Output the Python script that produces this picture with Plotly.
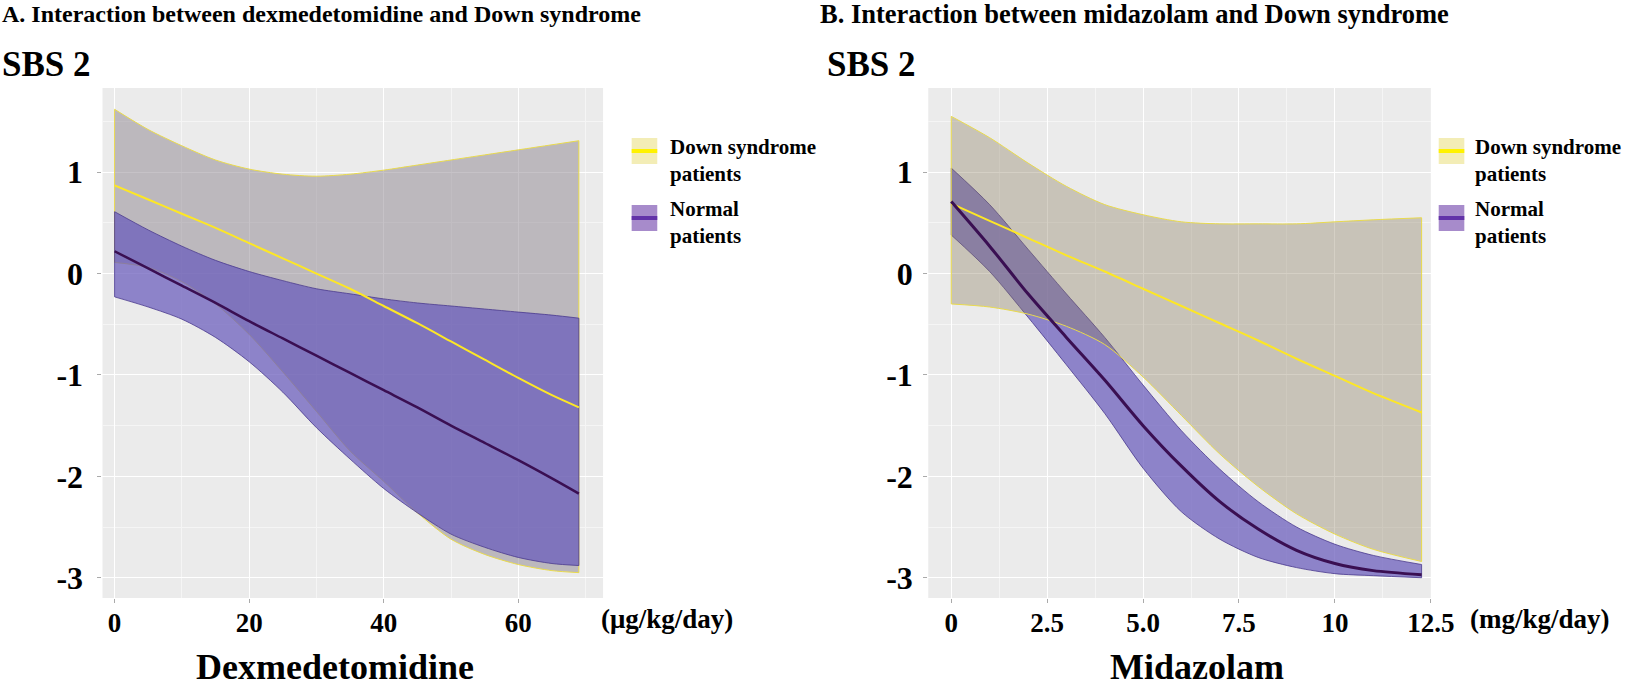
import plotly.graph_objects as go

W, H = 1645, 689


def fx(px):
    return px / W


def fy(py):
    return 1 - py / H


# ---------------- Panel A: Dexmedetomidine ----------------
dex_x = [0, 5, 10, 15, 20, 25, 30, 35, 40, 45, 50, 55, 60, 65, 69]
dex_ds_upper = [1.62, 1.42, 1.26, 1.12, 1.03, 0.98, 0.96, 0.98, 1.02, 1.07, 1.12, 1.17, 1.22, 1.27, 1.31]
dex_ds_mean = [0.87, 0.73, 0.59, 0.45, 0.30, 0.15, 0.00, -0.15, -0.32, -0.49, -0.67, -0.85, -1.03, -1.20, -1.32]
dex_ds_lower = [0.11, 0.06, -0.08, -0.30, -0.60, -0.97, -1.36, -1.75, -2.05, -2.36, -2.62, -2.77, -2.87, -2.93, -2.95]
dex_nm_upper = [0.61, 0.43, 0.27, 0.13, 0.02, -0.07, -0.15, -0.20, -0.25, -0.29, -0.32, -0.35, -0.38, -0.41, -0.44]
dex_nm_mean = [0.22, 0.05, -0.12, -0.29, -0.47, -0.64, -0.81, -0.98, -1.15, -1.32, -1.50, -1.67, -1.84, -2.02, -2.17]
dex_nm_lower = [-0.23, -0.33, -0.45, -0.63, -0.87, -1.17, -1.52, -1.83, -2.12, -2.36, -2.57, -2.70, -2.80, -2.86, -2.88]

# ---------------- Panel B: Midazolam ----------------
mid_x = [0, 1, 2, 3, 4, 5, 6, 7, 8, 9, 10, 11, 12.26]
mid_ds_upper = [1.55, 1.34, 1.09, 0.86, 0.68, 0.58, 0.51, 0.49, 0.49, 0.49, 0.51, 0.53, 0.55]
mid_ds_mean = [0.69, 0.52, 0.35, 0.18, 0.02, -0.15, -0.32, -0.49, -0.66, -0.84, -1.01, -1.18, -1.37]
mid_ds_lower = [-0.30, -0.33, -0.40, -0.52, -0.70, -1.02, -1.40, -1.78, -2.10, -2.37, -2.57, -2.72, -2.84]
mid_nm_upper = [1.04, 0.68, 0.24, -0.20, -0.63, -1.10, -1.55, -1.93, -2.25, -2.50, -2.67, -2.78, -2.87]
mid_nm_mean = [0.71, 0.27, -0.20, -0.63, -1.05, -1.50, -1.90, -2.25, -2.52, -2.73, -2.86, -2.93, -2.97]
mid_nm_lower = [0.38, 0.02, -0.43, -0.90, -1.38, -1.92, -2.35, -2.62, -2.80, -2.90, -2.96, -2.98, -3.00]

dex_ticks = [0, 20, 40, 60]
dex_ticktext = ["0", "20", "40", "60"]
mid_ticks = [0, 2.5, 5.0, 7.5, 10, 12.5]
mid_ticktext = ["0", "2.5", "5.0", "7.5", "10", "12.5"]
y_ticks = [1, 0, -1, -2, -3]
y_ticktext = ["1", "0", "-1", "-2", "-3"]

BG = "#EBEBEB"
DS_LINE = "#FDE725"
DS_EDGE = "#E9DA4C"
NM_LINE = "#3A0F52"
NM_EDGE = "#4A3A8E"
NM_FILL = "rgba(104,90,187,0.72)"
DS_FILL_A = "rgba(141,133,143,0.5)"
DS_FILL_B = "rgba(135,121,89,0.35)"
FONT = "Liberation Serif"
SMOOTH = 0.8

fig = go.Figure()


def ribbon(x, upper, lower, fill, edge, width, xa, ya):
    # lower boundary, then upper boundary filled down to it (both smoothed)
    fig.add_trace(go.Scatter(x=x, y=lower, mode="lines",
                             line=dict(color=edge, width=width, shape="spline", smoothing=SMOOTH),
                             xaxis=xa, yaxis=ya, hoverinfo="skip", showlegend=False))
    fig.add_trace(go.Scatter(x=x, y=upper, mode="lines", fill="tonexty", fillcolor=fill,
                             line=dict(color=edge, width=width, shape="spline", smoothing=SMOOTH),
                             xaxis=xa, yaxis=ya, hoverinfo="skip", showlegend=False))


def ribbon_ends(x, upper, lower, edge, width, xa, ya):
    for i in (0, -1):
        fig.add_trace(go.Scatter(x=[x[i], x[i]], y=[lower[i], upper[i]], mode="lines",
                                 line=dict(color=edge, width=width),
                                 xaxis=xa, yaxis=ya, hoverinfo="skip", showlegend=False))


def line(x, y, color, width, xa, ya):
    fig.add_trace(go.Scatter(x=x, y=y, mode="lines",
                             line=dict(color=color, width=width, shape="spline", smoothing=SMOOTH),
                             xaxis=xa, yaxis=ya, hoverinfo="skip", showlegend=False))


# Panel A: DS ribbon underneath, normal on top
ribbon(dex_x, dex_ds_upper, dex_ds_lower, DS_FILL_A, DS_EDGE, 1, "x", "y")
ribbon_ends(dex_x, dex_ds_upper, dex_ds_lower, DS_EDGE, 1, "x", "y")
ribbon(dex_x, dex_nm_upper, dex_nm_lower, NM_FILL, NM_EDGE, 0.8, "x", "y")
ribbon_ends(dex_x, dex_nm_upper, dex_nm_lower, NM_EDGE, 0.8, "x", "y")
line(dex_x, dex_ds_mean, DS_LINE, 2, "x", "y")
line(dex_x, dex_nm_mean, NM_LINE, 2.5, "x", "y")

# Panel B: normal ribbon underneath, DS on top
ribbon(mid_x, mid_nm_upper, mid_nm_lower, NM_FILL, NM_EDGE, 0.8, "x2", "y2")
ribbon_ends(mid_x, mid_nm_upper, mid_nm_lower, NM_EDGE, 0.8, "x2", "y2")
ribbon(mid_x, mid_ds_upper, mid_ds_lower, DS_FILL_B, DS_EDGE, 1, "x2", "y2")
ribbon_ends(mid_x, mid_ds_upper, mid_ds_lower, DS_EDGE, 1, "x2", "y2")
line(mid_x, mid_ds_mean, DS_LINE, 2, "x2", "y2")
line(mid_x, mid_nm_mean, NM_LINE, 3, "x2", "y2")

tickfont_x = dict(family=FONT, size=27, color="black", weight="bold")
tickfont_y = dict(family=FONT, size=32, color="black", weight="bold")

common_x = dict(showgrid=True, gridcolor="white", gridwidth=1.2, zeroline=False,
                ticks="outside", ticklen=4, tickcolor="#AAAAAA", tickfont=tickfont_x,
                ticklabelstandoff=-3, showline=False, fixedrange=True)
common_y = dict(showgrid=True, gridcolor="white", gridwidth=1.2, zeroline=False,
                ticks="outside", ticklen=4, tickcolor="#AAAAAA", tickfont=tickfont_y,
                showline=False, range=[-3.2, 1.83], tickvals=y_ticks, ticktext=y_ticktext,
                minor=dict(tickvals=[-2.5, -1.5, -0.5, 0.5, 1.5], showgrid=True,
                           gridcolor="#F5F5F5", gridwidth=0.6, ticks=""),
                fixedrange=True)

y_dom = [fy(598), fy(88)]

fig.update_layout(
    width=W, height=H, margin=dict(l=0, r=0, t=0, b=0),
    paper_bgcolor="white", plot_bgcolor=BG, showlegend=False,
    xaxis=dict(domain=[fx(104), fx(612)], range=[-1.8, 72.6], anchor="y",
               tickvals=dex_ticks, ticktext=dex_ticktext,
               minor=dict(tickvals=[10, 30, 50, 70], showgrid=True, gridcolor="#F5F5F5",
                          gridwidth=0.6, ticks=""),
               **common_x),
    yaxis=dict(domain=y_dom, anchor="x", ticklabelstandoff=8, **common_y),
    xaxis2=dict(domain=[fx(942), fx(1452)], range=[-0.6, 12.5], anchor="y2",
                tickvals=mid_ticks, ticktext=mid_ticktext,
                minor=dict(tickvals=[1.25, 3.75, 6.25, 8.75, 11.25], showgrid=True,
                           gridcolor="#F5F5F5", gridwidth=0.6, ticks=""),
                **common_x),
    yaxis2=dict(domain=y_dom, anchor="x2", ticklabelstandoff=4, **common_y),
)

ann = []


def text(s, px, py, size, xanchor="left", yanchor="middle", align="left"):
    ann.append(dict(text=s, x=fx(px), y=fy(py), xref="paper", yref="paper",
                    xanchor=xanchor, yanchor=yanchor, align=align, showarrow=False,
                    font=dict(family=FONT, size=size, color="black", weight="bold")))


text("A. Interaction between dexmedetomidine and Down syndrome", 0, 14, 24)
text("B. Interaction between midazolam and Down syndrome", 830, 14, 26.5)
text("SBS 2", 0, 64, 35)
text("SBS 2", 837, 64, 35)
text("(μg/kg/day)", 608, 619, 27)
text("(mg/kg/day)", 1490, 619, 27)
text("Dexmedetomidine", 340, 689, 36, xanchor="center", yanchor="bottom")
text("Midazolam", 1215, 689, 36, xanchor="center", yanchor="bottom")

shapes = []


def legend_key(x0, y0, fill, lc):
    shapes.append(dict(type="rect", xref="paper", yref="paper", x0=fx(x0), x1=fx(x0 + 26),
                       y0=fy(y0 + 26), y1=fy(y0), fillcolor=fill, line=dict(width=0), layer="above"))
    shapes.append(dict(type="line", xref="paper", yref="paper", x0=fx(x0), x1=fx(x0 + 26),
                       y0=fy(y0 + 13), y1=fy(y0 + 13), line=dict(color=lc, width=4), layer="above"))


for lx, tx in [(641, 678), (1460, 1495)]:
    legend_key(lx, 138, "#F3EDB6", "#FFF200")
    legend_key(lx, 205, "#A78BCB", "#6232A8")
    text("Down syndrome<br>patients", tx, 160, 21)
    text("Normal<br>patients", tx, 222, 21)

fig.update_layout(annotations=ann, shapes=shapes)

fig.write_html("out.html", config={"displayModeBar": False},
               post_script="document.body.style.margin='0';document.body.style.overflow='hidden';")
